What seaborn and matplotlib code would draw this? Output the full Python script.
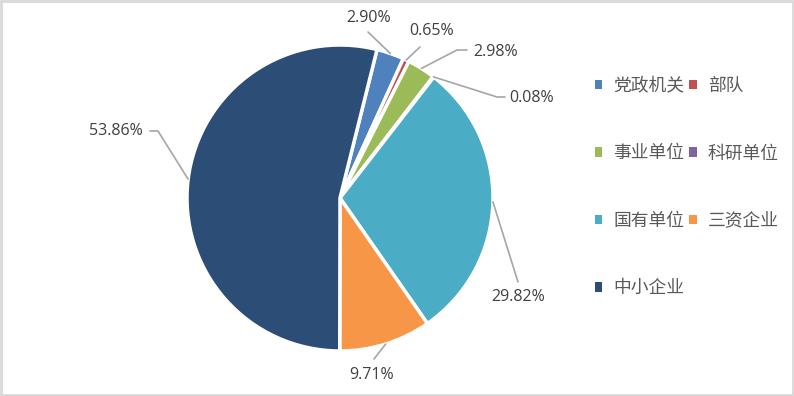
import numpy as np
import matplotlib
matplotlib.use('Agg')
import matplotlib.pyplot as plt
import matplotlib.transforms as mtrans
from matplotlib.patches import Patch, Rectangle
from matplotlib.lines import Line2D
import seaborn as sns

# data
categories = ['党政机关', '部队', '事业单位', '科研单位', '国有单位', '三资企业', '中小企业']
shares = [2.90, 0.65, 2.98, 0.08, 29.82, 9.71, 53.86]
colors = ['#4F81BD', '#C0504D', '#9BBB59', '#8064A2', '#4BACC6', '#F79646', '#2C4D75']

sns.set_theme(style='white')
plt.rcParams['font.family'] = ['Noto Sans CJK SC', 'DejaVu Sans']

W, H = 794, 396
fig = plt.figure(figsize=(W / 100, H / 100), dpi=100)
cx, cy, r = 340, 198, 153
ax = fig.add_axes([(cx - r) / W, (H - cy - r) / H, 2 * r / W, 2 * r / H])
wedges, _ = ax.pie(shares, colors=colors, startangle=76, counterclock=False,
                   wedgeprops=dict(edgecolor='white', linewidth=2.5))
ax.set_xlim(-1, 1)
ax.set_ylim(-1, 1)
ax.set_aspect('equal')

# top-left pixel coordinates for label layout
pix = mtrans.Affine2D().scale(1, -1).translate(0, H) + \
    mtrans.Affine2D().scale(1 / W, 1 / H) + fig.transFigure

# label position, alignment and leader-line bend points (pixels)
label_layout = [
    ((369, 18), 'center', [(368, 32)]),
    ((432, 31), 'center', [(420, 47)]),
    ((473, 52), 'left', [(457, 50), (467, 50)]),
    ((509, 98), 'left', [(497, 97), (505, 97)]),
    ((518, 297), 'center', [(518, 282)]),
    ((372, 375), 'center', [(374, 359)]),
    ((143, 131), 'right', [(158, 131), (150, 131)]),
]

for w, v, (pos, ha, bends) in zip(wedges, shares, label_layout):
    mid = np.deg2rad((w.theta1 + w.theta2) / 2)
    disp = ax.transData.transform((np.cos(mid), np.sin(mid)))
    start = pix.inverted().transform(disp)
    pts = [tuple(start)] + bends
    xs, ys = zip(*pts)
    fig.add_artist(Line2D(xs, ys, transform=pix, color='#A6A6A6', lw=1.2))
    fig.text(pos[0], pos[1], f'{v:.2f}%', transform=pix, ha=ha, va='center',
             fontsize=11.5, color='#404040', family=['Open Sans', 'DejaVu Sans'])

# legend filled row by row (matplotlib fills columns)
order = [0, 2, 4, 6, 1, 3, 5]
handles = [Patch(facecolor=colors[i], edgecolor='none') for i in order]
labels = [categories[i] for i in order]
fig.legend(handles, labels, ncol=2, loc='upper left', bbox_to_anchor=(595, 77),
           bbox_transform=pix, frameon=False, fontsize=12.8, labelcolor='#595959',
           handlelength=0.42, handleheight=0.42, handletextpad=0.6,
           columnspacing=0.3, labelspacing=2.78, borderpad=0, borderaxespad=0)

# chart border
fig.add_artist(Rectangle((0.5, 0.5), W - 2, H - 2, transform=pix, fill=False,
                         edgecolor='#D9D9D9', lw=2))

fig.savefig('out.png', dpi=100)
